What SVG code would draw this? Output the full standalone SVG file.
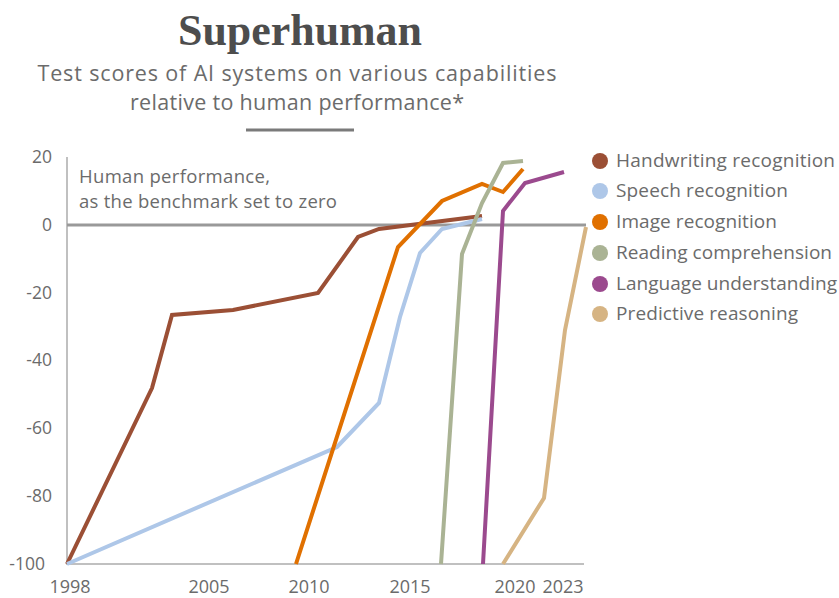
<svg xmlns="http://www.w3.org/2000/svg" width="839" height="598" viewBox="0 0 839 598">
<style>
.t{font-family:"Open Sans","Liberation Sans",sans-serif;fill:#6b6b6b}
.ax{font-size:17.5px}
.xl{font-size:18px}
.an{font-size:18.5px}
.lg{font-size:19px}
.ser{fill:none;stroke-width:4;stroke-linejoin:miter;stroke-linecap:butt}
</style>
<rect width="839" height="598" fill="#fff"/>
<g id="title">
<text x="300" y="45" text-anchor="middle" font-family="'Liberation Serif',serif" font-weight="bold" font-size="44" fill="#4d4d4d" textLength="244" lengthAdjust="spacingAndGlyphs">Superhuman</text>
<text class="t" x="297" y="81" text-anchor="middle" font-size="21.5" textLength="519" lengthAdjust="spacing">Test scores of AI systems on various capabilities</text>
<text class="t" x="297" y="110" text-anchor="middle" font-size="21.5" textLength="334" lengthAdjust="spacing">relative to human performance*</text>
<line x1="246" y1="130" x2="354" y2="130" stroke="#7a7a7a" stroke-width="3"/>
</g>
<g id="axes">
<line x1="67" y1="157" x2="67" y2="565" stroke="#c0c0c0" stroke-width="2"/>
<line x1="66" y1="564" x2="584" y2="564" stroke="#c0c0c0" stroke-width="2"/>
<line x1="67" y1="225" x2="586" y2="225" stroke="#999" stroke-width="3"/>
<g class="t ax" text-anchor="end">
<text x="52" y="163">20</text>
<text x="52" y="231">0</text>
<text x="52" y="299">-20</text>
<text x="52" y="366">-40</text>
<text x="52" y="434">-60</text>
<text x="52" y="502">-80</text>
<text x="45" y="570">-100</text>
</g>
<g class="t xl" text-anchor="middle">
<text x="70" y="593">1998</text>
<text x="209" y="593">2005</text>
<text x="309" y="593">2010</text>
<text x="410" y="593">2015</text>
<text x="515" y="593">2020</text>
<text x="563" y="593">2023</text>
</g>
<text class="t an" x="79" y="183" textLength="191" lengthAdjust="spacing">Human performance,</text>
<text class="t an" x="79" y="208" textLength="258" lengthAdjust="spacing">as the benchmark set to zero</text>
</g>
<g id="connectors">
<polyline id="handwriting" class="ser" stroke="#9b4f35" points="67,564 152,388 172,315 233,310 318,293 358,237 379,229 482,216"/>
<polyline id="speech" class="ser" stroke="#aec7e8" points="67,564 337,447 379,403 400,317 420,253 442,229 482,219"/>
<polyline id="image" class="ser" stroke="#e07000" points="296,564 398,247 442,201 482,184 503,192 523,169"/>
<polyline id="reading" class="ser" stroke="#aab394" points="441,564 462,254 482,203 503,163 523,161"/>
<polyline id="language" class="ser" stroke="#9b4a8e" points="483,564 503,211 525,183 564,172"/>
<polyline id="predictive" class="ser" stroke="#d6b483" points="503,564 544,498 565,330 586,227"/>
</g>
<g id="legend">
<g id="lg-handwriting"><circle cx="600" cy="161" r="8" fill="#9b4f35"/><text class="t lg" x="616" y="167" textLength="219" lengthAdjust="spacing">Handwriting recognition</text></g>
<g id="lg-speech"><circle cx="600" cy="191" r="8" fill="#aec7e8"/><text class="t lg" x="616" y="197" textLength="172" lengthAdjust="spacing">Speech recognition</text></g>
<g id="lg-image"><circle cx="600" cy="222" r="8" fill="#e07000"/><text class="t lg" x="616" y="228" textLength="161" lengthAdjust="spacing">Image recognition</text></g>
<g id="lg-reading"><circle cx="600" cy="253" r="8" fill="#aab394"/><text class="t lg" x="616" y="259" textLength="216" lengthAdjust="spacing">Reading comprehension</text></g>
<g id="lg-language"><circle cx="600" cy="284" r="8" fill="#9b4a8e"/><text class="t lg" x="616" y="290" textLength="221" lengthAdjust="spacing">Language understanding</text></g>
<g id="lg-predictive"><circle cx="600" cy="314" r="8" fill="#d6b483"/><text class="t lg" x="616" y="320" textLength="182" lengthAdjust="spacing">Predictive reasoning</text></g>
</g>
</svg>
